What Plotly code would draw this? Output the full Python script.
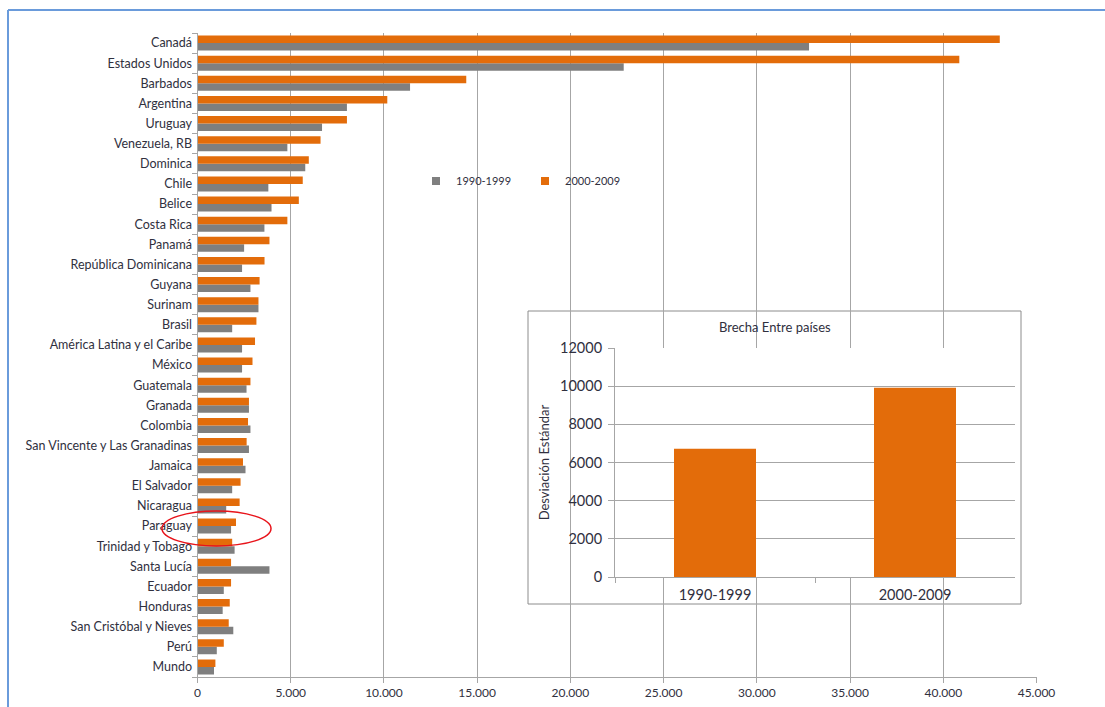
import plotly.graph_objects as go

countries = ["Canadá", "Estados Unidos", "Barbados", "Argentina", "Uruguay", "Venezuela, RB",
             "Dominica", "Chile", "Belice", "Costa Rica", "Panamá", "República Dominicana",
             "Guyana", "Surinam", "Brasil", "América Latina y el Caribe", "México", "Guatemala",
             "Granada", "Colombia", "San Vincente y Las Granadinas", "Jamaica", "El Salvador",
             "Nicaragua", "Paraguay", "Trinidad y Tobago", "Santa Lucía", "Ecuador", "Honduras",
             "San Cristóbal y Nieves", "Perú", "Mundo"]
v1990 = [32800, 22860, 11400, 8015, 6680, 4820, 5780, 3800, 3970, 3590, 2500, 2390,
         2840, 3270, 1860, 2390, 2390, 2630, 2760, 2840, 2760, 2575, 1860, 1540,
         1800, 1990, 3860, 1410, 1350, 1920, 1035, 885]
v2000 = [43030, 40860, 14415, 10180, 8015, 6600, 5970, 5645, 5435, 4820, 3860, 3595,
         3330, 3270, 3160, 3085, 2950, 2840, 2760, 2710, 2635, 2440, 2310, 2260,
         2065, 1860, 1800, 1800, 1730, 1675, 1410, 960]
series_names = ["1990-1999", "2000-2009"]

inset_cats = ["1990-1999", "2000-2009"]
inset_vals = [6720, 9920]

ORANGE = "#E36C0A"
GRAY = "#7F7F7F"
GRID = "#A6A6A6"
TXT = "#30303E"
FONT = "Lato"

W, H = 1105, 707
def px_x(p): return p / W
def px_y(p): return 1 - p / H

fig = go.Figure()
fig.add_trace(go.Bar(y=countries, x=v1990, orientation="h", name=series_names[0],
                     marker=dict(color=GRAY, line=dict(width=0)), showlegend=False,
                     xaxis="x", yaxis="y"))
fig.add_trace(go.Bar(y=countries, x=v2000, orientation="h", name=series_names[1],
                     marker=dict(color=ORANGE, line=dict(width=0)), showlegend=False,
                     xaxis="x", yaxis="y"))
# legend entries
for nm, col in zip(series_names, [GRAY, ORANGE]):
    fig.add_trace(go.Scatter(x=[None], y=[None], mode="markers", name=nm,
                             marker=dict(symbol="square", size=8, color=col),
                             xaxis="x", yaxis="y"))

fig.add_trace(go.Bar(x=inset_cats, y=inset_vals, marker=dict(color=ORANGE, line=dict(width=0)),
                     width=0.41, showlegend=False, xaxis="x2", yaxis="y2"))

fig.update_layout(
    autosize=True,
    margin=dict(l=0, r=0, t=0, b=0, autoexpand=False),
    paper_bgcolor="white", plot_bgcolor="white",
    font=dict(family=FONT, size=12, color=TXT),
    separators=",.",
    barmode="group", bargap=0.25, bargroupgap=0,
    xaxis=dict(domain=[px_x(197.5), px_x(1036.5)], range=[0, 45000], dtick=5000,
               tickformat=",d", showgrid=True, gridcolor=GRID, gridwidth=1,
               showline=True, linecolor=GRID, linewidth=1,
               ticks="outside", ticklen=5, tickcolor=GRID, zeroline=False,
               anchor="y", tickfont=dict(size=12, color=TXT)),
    yaxis=dict(domain=[px_y(677), px_y(33)], categoryorder="array",
               categoryarray=countries[::-1], tickson="boundaries",
               showline=True, linecolor=GRID, linewidth=1,
               ticks="outside", ticklen=5, tickcolor=GRID, showgrid=False,
               anchor="x", tickfont=dict(size=12.5, color=TXT), ticklabelstandoff=2),
    xaxis2=dict(domain=[px_x(615), px_x(1015)], anchor="y2", tickson="boundaries",
                showline=True, linecolor=GRID, linewidth=1, ticks="outside",
                ticklen=5, tickcolor=GRID, showgrid=False, ticklabelstandoff=5,
                tickfont=dict(size=14.5, color=TXT)),
    yaxis2=dict(domain=[px_y(577), px_y(348)], anchor="x2", range=[0, 12000], dtick=2000,
                tickformat="d", showgrid=True, gridcolor=GRID, gridwidth=1,
                showline=True, linecolor=GRID, linewidth=1, ticks="outside",
                ticklen=6, tickcolor=GRID, zeroline=False, ticklabelstandoff=3,
                tickfont=dict(size=14.5, color=TXT),
                title=dict(text="Desviación Estándar", font=dict(size=13, color=TXT), standoff=7)),
    legend=dict(orientation="h", x=px_x(416), y=px_y(181), xanchor="left", yanchor="middle",
                bgcolor="rgba(0,0,0,0)", entrywidth=64, entrywidthmode="pixels",
                font=dict(size=11, color=TXT), itemclick=False),
    shapes=[
        # inset panel background & border
        dict(type="rect", xref="x2 domain", yref="y2 domain",
             x0=(528 - 615) / 400, x1=(1021 - 615) / 400,
             y0=(577 - 604) / 229, y1=(577 - 311) / 229,
             fillcolor="white", line=dict(color="#8C8C8C", width=1), layer="below"),
        # highlight ellipse around Paraguay
        dict(type="circle", xref="paper", yref="paper",
             x0=px_x(162), x1=px_x(271), y0=px_y(546), y1=px_y(511),
             line=dict(color="#E8141B", width=1.5), layer="above"),
        # frame lines
        dict(type="line", xref="paper", yref="paper", x0=px_x(8), x1=px_x(8),
             y0=0, y1=px_y(10), line=dict(color="#6A9BDB", width=2), layer="above"),
        dict(type="line", xref="paper", yref="paper", x0=px_x(8), x1=1,
             y0=px_y(10), y1=px_y(10), line=dict(color="#6A9BDB", width=2), layer="above"),
    ],
    annotations=[
        dict(text="Brecha Entre países", xref="paper", yref="paper",
             x=px_x(775), y=px_y(327), showarrow=False, xanchor="center", yanchor="middle",
             font=dict(size=13, color=TXT)),
    ],
)

fig.write_html("out.html",
               config={"displayModeBar": False, "responsive": True},
               default_width="100vw", default_height="100vh",
               post_script=("document.body.style.margin='0px';"
                            "document.documentElement.style.overflow='hidden';"
                            "document.body.style.overflow='hidden';"
                            "Plotly.Plots.resize(document.getElementById('{plot_id}'));"))
